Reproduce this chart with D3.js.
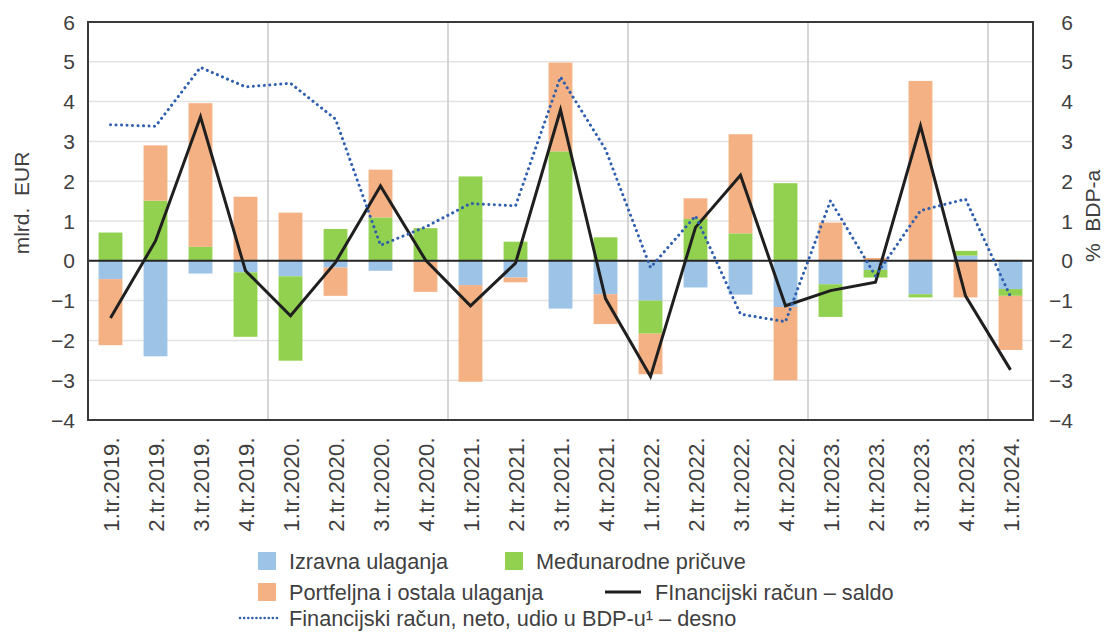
<!DOCTYPE html>
<html>
<head>
<meta charset="utf-8">
<script src="https://cdn.jsdelivr.net/npm/d3@7"></script>
<style>
  body { margin: 0; background: #fff; }
  text { font-family: "Liberation Sans", Arial, sans-serif; fill: #404040; }
</style>
</head>
<body>
<div id="chart"></div>
<script>
const width = 1110;
const height = 632;

const categories = ["1.tr.2019.", "2.tr.2019.", "3.tr.2019.", "4.tr.2019.",
    "1.tr.2020.", "2.tr.2020.", "3.tr.2020.", "4.tr.2020.",
    "1.tr.2021.", "2.tr.2021.", "3.tr.2021.", "4.tr.2021.",
    "1.tr.2022.", "2.tr.2022.", "3.tr.2022.", "4.tr.2022.",
    "1.tr.2023.", "2.tr.2023.", "3.tr.2023.", "4.tr.2023.", "1.tr.2024."];

// mlrd. EUR
const izravna = [-0.46, -2.40, -0.32, -0.29, -0.39, -0.17, -0.25, -0.03, -0.61, -0.42, -1.20,
    -0.84, -1.00, -0.67, -0.85, -1.16, -0.59, -0.23, -0.84, 0.13, -0.71];
const pricuve = [0.71, 1.51, 0.35, -1.62, -2.12, 0.80, 1.09, 0.82, 2.12, 0.48, 2.75,
    0.59, -0.83, 1.05, 0.69, 1.95, -0.82, -0.19, -0.08, 0.12, -0.17];
const portfeljna = [-1.66, 1.39, 3.61, 1.61, 1.21, -0.71, 1.20, -0.75, -2.43, -0.12, 2.23,
    -0.75, -1.02, 0.52, 2.49, -1.84, 0.96, 0.07, 4.52, -0.92, -1.36];
const saldo = [-1.44, 0.50, 3.62, -0.25, -1.38, -0.04, 1.88, 0.02, -1.13, -0.06, 3.79,
    -0.95, -2.91, 0.84, 2.15, -1.13, -0.75, -0.54, 3.39, -0.88, -2.74];
// % BDP-a (desno)
const udioBDP = [3.42, 3.38, 4.86, 4.37, 4.46, 3.56, 0.39, 0.85, 1.44, 1.38, 4.62,
    2.80, -0.17, 1.13, -1.34, -1.53, 1.51, -0.38, 1.26, 1.55, -0.90];

const yTicks = [-4, -3, -2, -1, 0, 1, 2, 3, 4, 5, 6];

const margin = {top: 22, left: 88, right: 77, bottom: 212};
const plotW = width - margin.left - margin.right;
const plotH = height - margin.top - margin.bottom;

const svg = d3.select("#chart")
    .append("svg")
    .attr("width", width)
    .attr("height", height);

const x = d3.scaleBand().domain(categories).range([margin.left, margin.left + plotW]).paddingInner(0.47).paddingOuter(0.235);
const xOuter = d3.scaleBand().domain(categories).range([margin.left, margin.left + plotW]);
const y = d3.scaleLinear().domain([-4, 6]).range([margin.top + plotH, margin.top]);
const yRight = d3.scaleLinear().domain([-4, 6]).range([margin.top + plotH, margin.top]);

// horizontal grid
svg.append("g")
    .selectAll("line")
    .data(yTicks)
    .enter()
    .append("line")
    .attr("x1", margin.left)
    .attr("x2", margin.left + plotW)
    .attr("y1", d => y(d))
    .attr("y2", d => y(d))
    .attr("stroke", "#e3e3e3")
    .attr("stroke-width", 1.5);

// year separators
svg.append("g")
    .selectAll("line")
    .data(categories.filter((c, i) => i > 0 && i % 4 === 0))
    .enter()
    .append("line")
    .attr("x1", d => xOuter(d))
    .attr("x2", d => xOuter(d))
    .attr("y1", margin.top)
    .attr("y2", margin.top + plotH)
    .attr("stroke", "#c8c8c8")
    .attr("stroke-width", 1.5);

// stacked bars
const rows = categories.map((c, i) => ({cat: c, izravna: izravna[i], pricuve: pricuve[i], portfeljna: portfeljna[i]}));
const keys = ["izravna", "pricuve", "portfeljna"];
const colors = {izravna: "#9dc3e6", pricuve: "#92d050", portfeljna: "#f4b183"};
const stacked = d3.stack().keys(keys).offset(d3.stackOffsetDiverging)(rows);

svg.append("g")
    .selectAll("g")
    .data(stacked)
    .enter()
    .append("g")
    .attr("fill", d => colors[d.key])
    .selectAll("rect")
    .data(d => d)
    .enter()
    .append("rect")
    .attr("x", d => x(d.data.cat))
    .attr("width", x.bandwidth())
    .attr("y", d => y(Math.max(d[0], d[1])))
    .attr("height", d => Math.abs(y(d[0]) - y(d[1])));

// zero line
svg.append("line")
    .attr("x1", margin.left)
    .attr("x2", margin.left + plotW)
    .attr("y1", y(0))
    .attr("y2", y(0))
    .attr("stroke", "#262626")
    .attr("stroke-width", 2);

const cx = d => xOuter(d) + xOuter.bandwidth() / 2;

// saldo line
svg.append("path")
    .datum(saldo)
    .attr("fill", "none")
    .attr("stroke", "#1f1f1f")
    .attr("stroke-width", 3)
    .attr("stroke-linejoin", "miter")
    .attr("d", d3.line().x((d, i) => cx(categories[i])).y(d => y(d)));

// udio u BDP-u, dotted
svg.append("path")
    .datum(udioBDP)
    .attr("fill", "none")
    .attr("stroke", "#2f5fad")
    .attr("stroke-width", 3)
    .attr("stroke-linecap", "round")
    .attr("stroke-dasharray", "0.1 5.4")
    .attr("d", d3.line().x((d, i) => cx(categories[i])).y(d => yRight(d)));

// frame
svg.append("rect")
    .attr("x", margin.left)
    .attr("y", margin.top)
    .attr("width", plotW)
    .attr("height", plotH)
    .attr("fill", "none")
    .attr("stroke", "#3a3a3a")
    .attr("stroke-width", 2);

const fmt = d => d < 0 ? "\u2212" + Math.abs(d) : String(d);

// left axis
svg.append("g")
    .selectAll("text")
    .data(yTicks)
    .enter()
    .append("text")
    .attr("x", 75)
    .attr("y", d => y(d))
    .attr("dy", "0.36em")
    .attr("text-anchor", "end")
    .style("font-size", "21px")
    .text(fmt);

// right axis
svg.append("g")
    .selectAll("text")
    .data(yTicks)
    .enter()
    .append("text")
    .attr("x", 1073)
    .attr("y", d => yRight(d))
    .attr("dy", "0.36em")
    .attr("text-anchor", "end")
    .style("font-size", "21px")
    .text(fmt);

svg.append("text")
    .attr("transform", "translate(29,203) rotate(-90)")
    .attr("text-anchor", "middle")
    .style("font-size", "21px")
    .text("mlrd.\u00a0\u00a0EUR");

svg.append("text")
    .attr("transform", "translate(1100,216) rotate(-90)")
    .attr("text-anchor", "middle")
    .style("font-size", "21px")
    .text("%\u00a0\u00a0BDP-a");

// x labels
svg.append("g")
    .selectAll("text")
    .data(categories)
    .enter()
    .append("text")
    .attr("transform", d => `translate(${cx(d) + 1},${margin.top + plotH + 17}) rotate(-90)`)
    .attr("text-anchor", "end")
    .attr("dy", "0.36em")
    .style("font-size", "22px")
    .style("letter-spacing", "0.3px")
    .text(d => d);

// legend
const legend = svg.append("g");
const legendItems = [
    {type: "rect", color: colors.izravna, label: "Izravna ulaganja", x: 258, y: 561},
    {type: "rect", color: colors.pricuve, label: "Međunarodne pričuve", x: 505, y: 561},
    {type: "rect", color: colors.portfeljna, label: "Portfeljna i ostala ulaganja", x: 258, y: 592},
    {type: "line", color: "#1f1f1f", label: "FInancijski račun – saldo", x: 605, y: 592},
    {type: "dots", color: "#2f5fad", label: "Financijski račun, neto, udio u BDP-u¹ – desno", x: 240, y: 618}
];

legendItems.forEach(item => {
    if (item.type === "rect") {
        legend.append("rect")
            .attr("x", item.x)
            .attr("y", item.y - 9)
            .attr("width", 18)
            .attr("height", 18)
            .attr("fill", item.color);
        legend.append("text")
            .attr("x", item.x + 31)
            .attr("y", item.y)
            .attr("dy", "0.36em")
            .style("font-size", "21.7px")
            .text(item.label);
    } else {
        const l = legend.append("line")
            .attr("x1", item.x)
            .attr("x2", item.type === "line" ? item.x + 36 : item.x + 37)
            .attr("y1", item.y)
            .attr("y2", item.y)
            .attr("stroke", item.color);
        if (item.type === "line") {
            l.attr("stroke-width", 3);
        } else {
            l.attr("stroke-width", 2.5).attr("stroke-linecap", "round").attr("stroke-dasharray", "0.1 4");
        }
        legend.append("text")
            .attr("x", item.type === "line" ? item.x + 50 : 289)
            .attr("y", item.y)
            .attr("dy", "0.36em")
            .style("font-size", "21.7px")
            .text(item.label);
    }
});
</script>
</body>
</html>
